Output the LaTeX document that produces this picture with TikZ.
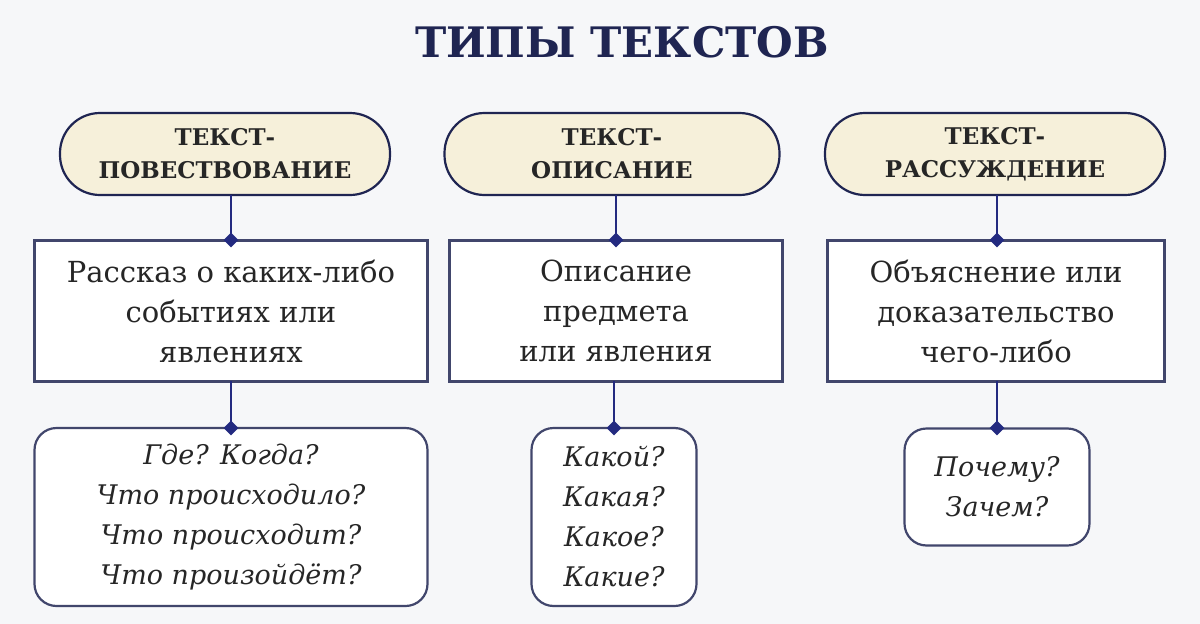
\documentclass[tikz,border=0pt]{standalone}
\usepackage{fontspec}
\setmainfont{DejaVu Serif}
\usetikzlibrary{shapes.geometric}
\definecolor{navy}{HTML}{1F2552}
\definecolor{lin}{HTML}{232A80}
\definecolor{pillfill}{HTML}{F6F0DA}
\definecolor{bg}{HTML}{F6F7F9}
\tikzset{
 pill/.style={draw=navy,line width=2.2pt,fill=pillfill,rounded corners=40pt,minimum height=82pt,align=center,font=\fontsize{23}{33}\selectfont\bfseries,text=black!85},
 rbox/.style={draw=navy!85,line width=2.2pt,fill=white,align=center,minimum height=141pt,font=\fontsize{29}{40}\selectfont,text=black!85},
 qbox/.style={draw=navy!85,line width=2.2pt,fill=white,rounded corners=22pt,align=center,font=\fontsize{27}{40}\selectfont\itshape,text=black!85},
 con/.style={draw=lin,line width=2.6pt},
 dia/.style={diamond,fill=lin,inner sep=0pt,minimum size=15pt}
}
\begin{document}
\begin{tikzpicture}[x=1pt,y=-1pt]
\fill[bg] (0,0) rectangle (1200,624);
\useasboundingbox (0,0) rectangle (1200,624);
\node (title) [text=navy,font=\fontsize{42}{48}\selectfont\bfseries] at (622,42) {ТИПЫ ТЕКСТОВ};
\node (p1) [pill,minimum width=330pt] at (225,154) {ТЕКСТ-\\ПОВЕСТВОВАНИЕ};
\node (p2) [pill,minimum width=335pt] at (612,154) {ТЕКСТ-\\ОПИСАНИЕ};
\node (p3) [pill,minimum width=340pt] at (995,154) {ТЕКСТ-\\РАССУЖДЕНИЕ};
\node (r1) [rbox,minimum width=393pt] at (231,311) {Рассказ о каких-либо\\событиях или\\явлениях};
\node (r2) [rbox,minimum width=333pt] at (616,311) {Описание\\предмета\\или явления};
\node (r3) [rbox,minimum width=337pt] at (996,311) {Объяснение или\\доказательство\\чего-либо};
\node (q1) [qbox,minimum width=393pt,minimum height=178pt] at (231,517) {Где? Когда?\\Что происходило?\\Что происходит?\\Что произойдёт?};
\node (q2) [qbox,minimum width=165pt,minimum height=178pt] at (614,517) {Какой?\\Какая?\\Какое?\\Какие?};
\node (q3) [qbox,minimum width=185pt,minimum height=117pt] at (997,487) {Почему?\\Зачем?};
\foreach \x in {231,616,997}{
 \draw[con] (\x,195) -- (\x,240);
 \node[dia] at (\x,240) {};
}
\foreach \x in {231,614,997}{
 \draw[con] (\x,381) -- (\x,428);
 \node[dia] at (\x,428) {};
}
\end{tikzpicture}
\end{document}
